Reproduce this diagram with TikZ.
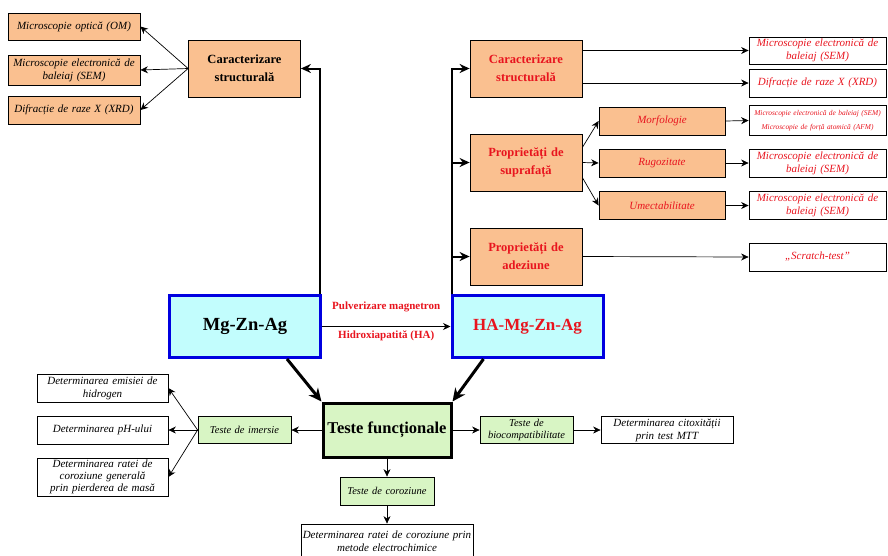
\documentclass[tikz,border=0pt]{standalone}
\usepackage{fontspec}
\setmainfont{Liberation Serif}
\usetikzlibrary{arrows.meta}
\definecolor{peach}{HTML}{FAC090}
\definecolor{mint}{HTML}{D8F5C4}
\definecolor{aqua}{HTML}{C2FDFD}
\definecolor{royal}{HTML}{0000E0}
\definecolor{crimson}{HTML}{E8141E}

\begin{document}
\begin{tikzpicture}[x=1pt,y=-1pt,
    box/.style={draw,inner sep=0pt,align=center,line width=0.8pt},
    leaf/.style={box,font=\itshape\fontsize{11}{13}\selectfont},
    head/.style={box,fill=peach,font=\bfseries\fontsize{12.5}{18}\selectfont,text width=112pt,minimum height=57pt},
    sub/.style={box,fill=peach,text=crimson,font=\itshape\fontsize{11}{13}\selectfont,text width=126pt,minimum height=28pt},
    test/.style={box,fill=mint,font=\itshape\fontsize{10.5}{12.5}\selectfont,text width=93pt,minimum height=27pt},
    alloy/.style={draw=royal,line width=3pt,fill=aqua,inner sep=0pt,font=\bfseries\fontsize{17}{20}\selectfont,minimum width=151pt,minimum height=62pt},
    thin/.style={-{Stealth[length=7.5pt,width=7pt]},line width=0.7pt},
    thick/.style={-{Stealth[length=10pt,width=9pt]},line width=2pt},
    heavy/.style={-{Stealth[length=13pt,width=12pt]},line width=3pt}]
    \useasboundingbox (0,0) rectangle (888,555);

    % left side
    \node[leaf,fill=peach,text width=132pt,minimum height=27pt] (omL) at (74,26.5) {Microscopie optică (OM)};
    \node[leaf,fill=peach,text width=132pt,minimum height=30pt] (semL) at (74,70) {Microscopie electronică de\\baleiaj (SEM)};
    \node[leaf,fill=peach,text width=132pt,minimum height=28pt] (xrdL) at (74,110) {Difracție de raze X (XRD)};
    \node[head] (carL) at (244.5,68.5) {Caracterizare\\structurală};

    % substrates
    \node[alloy,font=\bfseries\fontsize{18.5}{21}\selectfont] (mg) at (245,326.5) {Mg-Zn-Ag};
    \node[alloy,text=crimson] (ha) at (527.5,326.5) {HA-Mg-Zn-Ag};

    % right side
    \node[head,text=crimson] (carR) at (526,68.5) {Caracterizare\\structurală};
    \node[head,text=crimson] (supR) at (526,162.5) {Proprietăți de\\suprafață};
    \node[head,text=crimson] (adeR) at (526,256.5) {Proprietăți de\\adeziune};
    \node[sub] (morf) at (662,121) {Morfologie};
    \node[sub] (rug) at (662,163) {Rugozitate};
    \node[sub] (ume) at (662,205.5) {Umectabilitate};
    \node[leaf,text=crimson,text width=137pt,minimum height=27pt] (semR) at (817.5,50.5) {Microscopie electronică de\\baleiaj (SEM)};
    \node[leaf,text=crimson,text width=137pt,minimum height=28pt] (xrdR) at (817.5,83) {Difracție de raze X (XRD)};
    \node[leaf,text=crimson,text width=137pt,minimum height=30pt,font=\itshape\fontsize{7.4}{14}\selectfont] (morfR) at (817.5,120.5) {Microscopie electronică de baleiaj (SEM)\\Microscopie de forță atomică (AFM)};
    \node[leaf,text=crimson,text width=137pt,minimum height=28pt] (rugR) at (817.5,163) {Microscopie electronică de\\baleiaj (SEM)};
    \node[leaf,text=crimson,text width=137pt,minimum height=28pt] (umeR) at (817.5,205.5) {Microscopie electronică de\\baleiaj (SEM)};
    \node[leaf,text=crimson,text width=137pt,minimum height=28pt] (scr) at (817.5,257) {„Scratch-test”};

    % functional tests
    \node[box,line width=3pt,fill=mint,font=\bfseries\fontsize{16.5}{19}\selectfont,minimum width=128pt,minimum height=54pt] (tf) at (387,430) {Teste funcționale};
    \node[test] (imers) at (244.5,430) {Teste de imersie};
    \node[test] (bio) at (526.5,430) {Teste de\\biocompatibilitate};
    \node[test,text width=94pt,minimum height=28pt] (cor) at (387,491) {Teste de coroziune};
    \node[leaf,text width=131pt,minimum height=28pt] (emis) at (102.5,388) {Determinarea emisiei de\\hidrogen};
    \node[leaf,text width=131pt,minimum height=28pt] (ph) at (102.5,430) {Determinarea pH-ului};
    \node[leaf,text width=131pt,minimum height=38pt,font=\itshape\fontsize{11}{12.3}\selectfont] (rata) at (102.5,477) {Determinarea ratei de\\coroziune generală\\prin pierderea de masă};
    \node[leaf,text width=132pt,minimum height=27pt] (cito) at (667,430) {Determinarea citoxității\\prin test MTT};
    \node[leaf,text width=172pt,minimum height=34pt] (elch) at (387,541) {Determinarea ratei de coroziune prin\\metode electrochimice};

    \draw[thin] (carL.west) -- (omL.east); \draw[thin] (carL.west) -- (semL.east); \draw[thin] (carL.west) -- (xrdL.east);
    \draw[thick] ([xshift=-2pt]mg.north east) |- (carL.east);
    \draw[thick] ([xshift=1pt]ha.north west) |- (carR.west);
    \draw[thick] ([xshift=1pt]ha.north west) |- (supR.west);
    \draw[thick] ([xshift=1pt]ha.north west) |- (adeR.west);
    \draw[thin] (mg.east) -- (ha.west)
        node[midway,above=14pt,inner sep=0pt,text=crimson,font=\bfseries\fontsize{11}{13}\selectfont] {Pulverizare magnetron}
        node[midway,below=4pt,inner sep=0pt,text=crimson,font=\bfseries\fontsize{11}{13}\selectfont] {Hidroxiapatită (HA)};
    \draw[thin] (carR.east |- semR.west) -- (semR.west); \draw[thin] (carR.east |- xrdR.west) -- (xrdR.west);
    \draw[thin] (supR.15) -- (morf.west); \draw[thin] (supR.east) -- (rug.west); \draw[thin] (supR.-15) -- (ume.west);
    \draw[thin] (morf.east) -- (morfR.west); \draw[thin] (rug.east) -- (rugR.west); \draw[thin] (ume.east) -- (umeR.west);
    \draw[thin] (adeR.east) -- (scr.west);
    \draw[heavy] ([xshift=42pt]mg.south) -- (tf.north west);
    \draw[heavy] ([xshift=-44pt]ha.south) -- (tf.north east);
    \draw[thin] (tf.west) -- (imers.east); \draw[thin] (tf.east) -- (bio.west); \draw[thin] (bio.east) -- (cito.west);
    \draw[thin] (imers.west) -- (emis.east); \draw[thin] (imers.west) -- (ph.east); \draw[thin] (imers.west) -- (rata.east);
    \draw[thin] (tf.south) -- (cor.north); \draw[thin] (cor.south) -- (elch.north);
\end{tikzpicture}
\end{document}
